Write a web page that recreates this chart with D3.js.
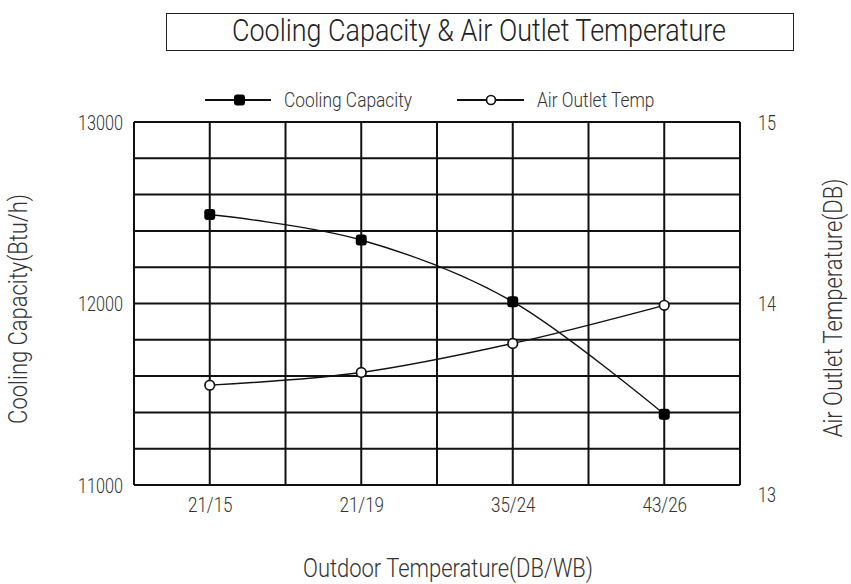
<!DOCTYPE html>
<html>
<head>
<meta charset="utf-8">
<script src="https://cdn.jsdelivr.net/npm/d3@7"></script>
<style>
  html, body { margin: 0; padding: 0; background: #fff; }
  svg { display: block; }
  text { font-family: Roboto, "Liberation Sans", sans-serif; font-weight: 300; fill: #333; }
</style>
</head>
<body>
<svg id="chart" width="851" height="584"></svg>
<script>
// Outdoor conditions (DB/WB) along the bottom axis
const categories = ["21/15", "21/19", "35/24", "43/26"];
// Cooling capacity in Btu/h (left axis)
const coolingCapacity = [12490, 12350, 12010, 11390];
// Air outlet temperature in °C DB (right axis)
const airOutletTemp = [13.55, 13.62, 13.78, 13.99];
// Labelled ticks
const leftTicks = [11000, 12000, 13000];
const rightTicks = [13, 14, 15];

const svg = d3.select("#chart");
const W = 851, H = 584;
const margin = { left: 134, top: 122, right: 111, bottom: 99 };
const x0 = margin.left, x1 = W - margin.right;
const y0 = margin.top, y1 = H - margin.bottom;

const x = d3.scalePoint().domain(categories).range([x0, x1]).padding(0.5);
const yL = d3.scaleLinear().domain([11000, 13000]).range([y1, y0]);
const yR = d3.scaleLinear().domain([13, 15]).range([y1, y0]);
const step = x.step();

// Narrow the lettering horizontally (condensed look)
function squeeze(sel, factor) {
  sel.each(function () {
    const w = this.getComputedTextLength();
    d3.select(this).attr("textLength", w * factor).attr("lengthAdjust", "spacingAndGlyphs");
  });
}
function fitTo(sel, width) {
  sel.attr("textLength", width).attr("lengthAdjust", "spacingAndGlyphs");
}
function ratioFor(str, size, width) {
  const t = svg.append("text").style("font-size", size + "px").text(str);
  const r = width / t.node().getComputedTextLength();
  t.remove();
  return r;
}

// Title box
svg.append("rect")
  .attr("x", 166.5).attr("y", 13.5).attr("width", 627).attr("height", 37)
  .attr("fill", "none").attr("stroke", "#222").attr("stroke-width", 1);
svg.append("text")
  .attr("x", 479).attr("y", 41).attr("text-anchor", "middle")
  .style("font-size", "32px").style("fill", "#222")
  .text("Cooling Capacity & Air Outlet Temperature")
  .call(fitTo, 494);

// Grid
const grid = svg.append("g").attr("stroke", "#111").attr("stroke-width", 2);
d3.range(11000, 13001, 200).forEach(v => {
  grid.append("line").attr("x1", x0).attr("x2", x1)
    .attr("y1", yL(v)).attr("y2", yL(v));
});
const vLines = [x0];
categories.forEach(c => { vLines.push(x(c)); vLines.push(x(c) + step / 2); });
vLines.forEach(px => {
  grid.append("line").attr("x1", px).attr("x2", px)
    .attr("y1", y0).attr("y2", y1);
});

// Axes (labels only)
const tickRatio = ratioFor("13000", 20, 45);
const axL = svg.append("g").attr("transform", `translate(${x0},1)`)
  .call(d3.axisLeft(yL).tickValues(leftTicks).tickSize(0).tickPadding(11).tickFormat(d3.format("d")));
const axR = svg.append("g").attr("transform", `translate(${x1},1)`)
  .call(d3.axisRight(yR).tickValues(rightTicks).tickSize(0).tickPadding(18).tickFormat(d3.format("d")));
const axB = svg.append("g").attr("transform", `translate(0,${y1})`)
  .call(d3.axisBottom(x).tickSize(0).tickPadding(12));
[axL, axR, axB].forEach(g => {
  g.select(".domain").remove();
  g.selectAll("text").attr("fill", "#333")
    .style("font-family", 'Roboto, "Liberation Sans", sans-serif')
    .style("font-weight", 300);
});
axL.selectAll("text").style("font-size", "20px");
axR.selectAll("text").style("font-size", "20px");
axB.selectAll("text").style("font-size", "21px");
[axL, axR, axB].forEach(g => g.selectAll("text").call(squeeze, tickRatio));
axR.selectAll("text").filter(d => d === 13).attr("dy", "0.75em");

// Series lines
const lineL = d3.line().x((d, i) => x(categories[i])).y(d => yL(d)).curve(d3.curveCardinal);
const lineR = d3.line().x((d, i) => x(categories[i])).y(d => yR(d)).curve(d3.curveCardinal);
svg.append("path").attr("d", lineL(coolingCapacity))
  .attr("fill", "none").attr("stroke", "#111").attr("stroke-width", 1.4);
svg.append("path").attr("d", lineR(airOutletTemp))
  .attr("fill", "none").attr("stroke", "#111").attr("stroke-width", 1.4);

// Markers
svg.selectAll(".mCap").data(coolingCapacity).join("rect")
  .attr("class", "mCap")
  .attr("x", (d, i) => x(categories[i]) - 5.5).attr("y", d => yL(d) - 5.5)
  .attr("width", 11).attr("height", 11).attr("rx", 3)
  .attr("fill", "#000");
svg.selectAll(".mAir").data(airOutletTemp).join("circle")
  .attr("class", "mAir")
  .attr("cx", (d, i) => x(categories[i])).attr("cy", d => yR(d))
  .attr("r", 4.8).attr("fill", "#fff").attr("stroke", "#111").attr("stroke-width", 1.7);

// Legend
const legend = svg.append("g");
const legY = 100;
const legRatio = ratioFor("Cooling Capacity", 20, 128);
legend.append("line").attr("x1", 205).attr("x2", 271).attr("y1", legY).attr("y2", legY)
  .attr("stroke", "#111").attr("stroke-width", 2);
legend.append("rect").attr("x", 234).attr("y", legY - 5.5).attr("width", 11).attr("height", 11)
  .attr("rx", 3).attr("fill", "#000");
legend.append("text").attr("x", 284).attr("y", legY).attr("dy", "0.35em")
  .style("font-size", "20px").text("Cooling Capacity").call(squeeze, legRatio);
legend.append("line").attr("x1", 457).attr("x2", 524).attr("y1", legY).attr("y2", legY)
  .attr("stroke", "#111").attr("stroke-width", 2);
legend.append("circle").attr("cx", 491).attr("cy", legY).attr("r", 4.5)
  .attr("fill", "#fff").attr("stroke", "#111").attr("stroke-width", 1.7);
legend.append("text").attr("x", 537).attr("y", legY).attr("dy", "0.35em")
  .style("font-size", "20px").text("Air Outlet Temp").call(squeeze, legRatio);

// Axis titles
const titleRatio = ratioFor("Outdoor Temperature(DB/WB)", 26, 290);
svg.append("text").attr("x", 448).attr("y", 577)
  .attr("text-anchor", "middle")
  .style("font-size", "26px").text("Outdoor Temperature(DB/WB)").call(squeeze, titleRatio);
svg.append("text").attr("transform", "translate(27,309) rotate(-90)")
  .attr("text-anchor", "middle")
  .style("font-size", "26px").text("Cooling Capacity(Btu/h)").call(squeeze, titleRatio);
svg.append("text").attr("transform", "translate(842,308) rotate(-90)")
  .attr("text-anchor", "middle")
  .style("font-size", "26px").text("Air Outlet Temperature(DB)").call(squeeze, titleRatio);
</script>
</body>
</html>
